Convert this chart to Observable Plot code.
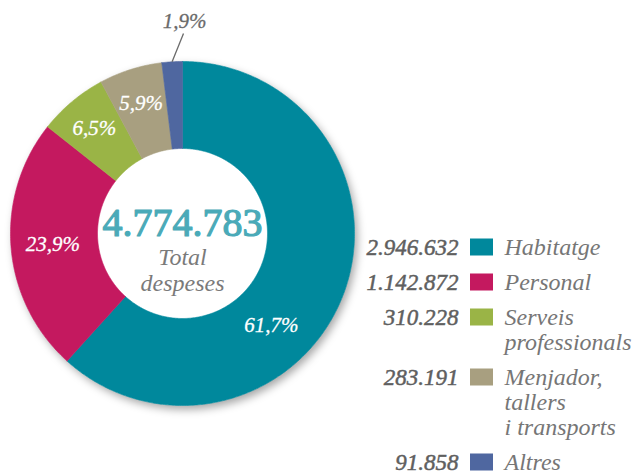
<!DOCTYPE html>
<html>
<head>
<meta charset="utf-8">
<script src="https://cdn.jsdelivr.net/npm/d3@7"></script>
<script src="https://cdn.jsdelivr.net/npm/@observablehq/plot@0.6"></script>
<style>
  html, body { margin: 0; padding: 0; background: #fff; }
  #chart { width: 632px; height: 474px; }
</style>
</head>
<body>
<div id="chart"></div>
<script>
// ---- data ----
const categories = ["Habitatge", "Personal", "Serveis professionals", "Menjador, tallers i transports", "Altres"];
const legendLabels = ["Habitatge", "Personal", "Serveis\nprofessionals", "Menjador,\ntallers\ni transports", "Altres"];
const values = [2946632, 1142872, 310228, 283191, 91858];
const valueLabels = ["2.946.632", "1.142.872", "310.228", "283.191", "91.858"];
const pctLabels = ["61,7%", "23,9%", "6,5%", "5,9%", "1,9%"];
const totalLabel = "4.774.783";
const totalCaption = "Total\ndespeses";
const colors = ["#00889c", "#c4195f", "#9ab446", "#a89f80", "#4f67a0"];

// ---- layout ----
const W = 632, H = 474;
const cx = 182, cy = 233, R = 172, r0 = 85;
const serif = "'Liberation Serif', 'DejaVu Serif', serif";

const rows = categories.map((c, i) => ({cat: c, label: legendLabels[i], value: valueLabels[i], lines: legendLabels[i].split("\n").length}));
let yc = 247;
rows.forEach((d, i) => { d.cy = yc; yc += 35 + 25 * (d.lines - 1); });

const slices = d3.pie().sort(null).value(d => d.value)(categories.map((c, i) => ({cat: c, value: values[i], pct: pctLabels[i]})));
const pol = (a, rad) => [cx + rad * Math.sin(a), cy - rad * Math.cos(a)];
const ringPts = [];
for (const s of slices) {
  const n = Math.max(4, Math.ceil((s.endAngle - s.startAngle) / 0.01));
  const pts = [];
  for (let k = 0; k <= n; k++) pts.push(pol(s.startAngle + (s.endAngle - s.startAngle) * k / n, R));
  for (let k = n; k >= 0; k--) pts.push(pol(s.startAngle + (s.endAngle - s.startAngle) * k / n, r0));
  pts.push(pts[0]);
  for (const [x, y] of pts) ringPts.push({cat: s.data.cat, x, y});
}

// inside labels (Habitatge label is shifted away from the mid-angle, as in the original)
const labelAngleOverride = {"Habitatge": 136 * Math.PI / 180};
const inner = slices.slice(0, 4).map(s => {
  const a = labelAngleOverride[s.data.cat] ?? (s.startAngle + s.endAngle) / 2;
  const rad = s.data.cat === "Habitatge" ? 128 : (s.data.cat === "Personal" ? 130 : 137);
  const [x, y] = pol(a, rad);
  return {x, y, text: s.data.pct};
});
const last = slices[4];
const [lx1, ly1] = pol((last.startAngle + last.endAngle) / 2, R);
const outside = [{x: 184, y: 21, text: last.data.pct, x1: lx1, y1: ly1, x2: 183, y2: 33}];

const chart = Plot.plot({
  width: W, height: H,
  margin: 0,
  x: {domain: [0, W], range: [0, W], axis: null},
  y: {domain: [0, H], range: [0, H], axis: null},
  color: {domain: categories, range: colors},
  marks: [
    Plot.dot([{x: cx, y: cy}], {x: "x", y: "y", r: R, fill: "white", stroke: "none"}),
    Plot.line(ringPts, {x: "x", y: "y", z: "cat", fill: "cat", stroke: "cat", strokeWidth: 0.6, curve: "linear"}),
    Plot.text(inner, {x: "x", y: "y", text: "text", fill: "white", stroke: "white", strokeWidth: 0.3, fontFamily: serif, fontStyle: "italic", fontSize: 21}),
    Plot.link(outside, {x1: "x1", y1: "y1", x2: "x2", y2: "y2", stroke: "#6a6a6a", strokeWidth: 1.3}),
    Plot.text(outside, {x: "x", y: "y", text: "text", fill: "#6a6a6a", stroke: "#6a6a6a", strokeWidth: 0.3, fontFamily: serif, fontStyle: "italic", fontSize: 21}),
    Plot.text([totalLabel], {x: cx, y: 207, text: d => d, fill: "#4aaab8", stroke: "#4aaab8", strokeWidth: 1.2, fontFamily: serif, fontSize: 40, lineAnchor: "top", ariaLabel: "total"}),
    Plot.text([totalCaption], {x: cx, y: 246, text: d => d, fill: "#7a7a7a", fontFamily: serif, fontStyle: "italic", fontSize: 24, lineAnchor: "top", lineHeight: 1.08}),
    Plot.rect(rows, {x1: 470, x2: 493, y1: d => d.cy - 8.5, y2: d => d.cy + 8.5, fill: "cat"}),
    Plot.text(rows, {x: 458, y: d => d.cy - 9.3, text: "value", textAnchor: "end", lineAnchor: "top", fill: "#5f5f5f", stroke: "#5f5f5f", strokeWidth: 0.5, fontFamily: serif, fontStyle: "italic", fontSize: 23}),
    Plot.text(rows, {x: 504, y: d => d.cy - 10, text: "label", textAnchor: "start", lineAnchor: "top", lineHeight: 25 / 24, fill: "#767676", fontFamily: serif, fontStyle: "italic", fontSize: 24})
  ]
});
const dotG = chart.querySelector('g[aria-label="dot"]');
if (dotG) dotG.style.filter = "drop-shadow(3px 4px 4px rgba(0,0,0,0.35))";
const totG = chart.querySelector('g[aria-label="total"]');
if (totG) totG.querySelectorAll("text").forEach(t => { t.style.letterSpacing = "-1.2px"; });
document.getElementById("chart").appendChild(chart);
</script>
</body>
</html>
